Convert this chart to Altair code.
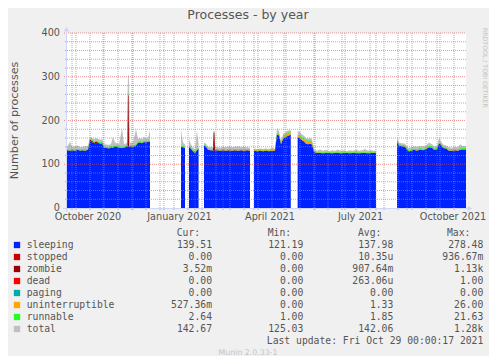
import altair as alt
import pandas as pd

# ---------------- values ----------------
# day offset from 2020-09-26 (UTC); seg = contiguous block of data (gaps between)
day = [
    0, 3, 5, 8, 11, 13, 16, 18, 21, 23, 25, 27, 29, 31, 33, 35, 37, 40, 42, 44,
    46, 48, 50, 52, 55, 57, 59, 60, 60.5, 61, 61.5, 62, 62.5, 63, 64, 66, 69, 71, 73, 75, 77, 79, 81, 83,
    114, 116, 118,
    122, 124, 126, 128, 130, 131.5,
    137, 139, 141, 143, 145, 146, 146.6, 147.4, 148, 150, 153, 156, 159, 162, 165, 168, 171, 174, 177, 180, 183,
    187, 190, 193, 196, 199, 202, 205, 208, 210, 212, 214, 216, 218, 220, 222, 223.7,
    230.7, 233, 235, 237, 239, 241, 243, 245, 247, 250, 253, 256, 259, 262, 265, 268, 271, 274, 277, 280,
    283, 286, 289, 292, 295, 298, 301, 304, 307, 309,
    330, 332, 335, 338, 340, 342, 344, 347, 350, 353, 356, 359, 362, 365, 367, 370, 372, 374, 376, 379,
    382, 385, 388, 391, 393, 396, 399,
]
seg = (["a"] * 44 + ["b"] * 3 + ["c"] * 6 + ["d"] * 21 + ["e"] * 16 + ["f"] * 30 + ["g"] * 27)

sleeping = [
    132, 131, 132, 131, 133, 131, 132, 131, 133, 153, 150, 149, 146, 150, 147, 148, 138, 137, 136, 139,
    138, 141, 140, 138, 137, 138, 140, 141, 141, 141, 141, 140, 140, 140, 142, 140, 143, 149, 150, 148, 151, 150,
    152, 151,
    140, 139, 137,
    140, 135, 130, 126, 132, 136,
    143, 140, 133, 132, 132, 131, 131, 131, 132, 132, 131, 132, 131, 132, 131, 132, 131, 132, 131, 132, 131,
    131, 130, 131, 130, 131, 130, 131, 131, 168, 166, 146, 158, 162, 164, 166, 168,
    162, 160, 155, 152, 147, 146, 147, 145, 128, 126, 126, 125, 126, 126, 125, 126, 126, 125, 126, 126,
    125, 126, 126, 125, 126, 126, 125, 126, 126, 126,
    152, 143, 141, 140, 133, 129, 131, 133, 131, 134, 132, 135, 139, 138, 133, 134, 147, 145, 137, 136,
    131, 131, 132, 131, 133, 134, 134,
]
zombie = [
    0, 0, 0, 0, 0, 0, 0, 0, 0, 3, 4, 0, 6, 0, 0, 0, 0, 0, 0, 0,
    0, 0, 0, 0, 0, 0, 0, 0, 0, 115, 118, 0, 0, 0, 0, 0, 0, 0, 0, 0, 0, 0,
    0, 0,
    0, 0, 0,
    0, 0, 0, 0, 0, 0,
    0, 0, 0, 0, 0, 0, 40, 42, 0, 0, 0, 0, 0, 0, 0, 0, 0, 0, 0, 0, 0,
    0, 0, 0, 0, 0, 0, 0, 0, 0, 0, 0, 0, 0, 0, 0, 0,
    0, 0, 0, 0, 0, 0, 0, 0, 0, 0, 0, 0, 0, 0, 0, 0, 0, 0, 0, 0,
    0, 0, 0, 0, 0, 0, 0, 0, 0, 0,
    0, 0, 0, 0, 0, 0, 0, 0, 0, 0, 0, 0, 0, 0, 0, 0, 0, 0, 0, 0,
    0, 0, 0, 0, 0, 0, 0,
]
uninterruptible = [
    0.5, 0.5, 0.5, 0.5, 0.5, 0.5, 0.5, 0.5, 0.5, 0.5, 0.5, 0.5, 0.5, 0.5, 0.5, 0.5, 0.5, 0.5, 0.5, 0.5,
    0.5, 0.5, 0.5, 0.5, 0.5, 0.5, 0.5, 0.5, 0.5, 0.5, 0.5, 0.5, 0.5, 0.5, 0.5, 0.5, 0.5, 0.5, 0.5, 0.5, 0.5, 0.5,
    0.5, 0.5,
    0.5, 0.5, 0.5,
    0.5, 0.5, 0.5, 0.5, 0.5, 0.5,
    0.5, 0.5, 0.5, 0.5, 0.5, 0.5, 0.5, 0.5, 0.5, 1, 1, 1, 1, 1, 1, 1, 1, 1, 1, 1, 1,
    1.5, 1.5, 1.5, 1.5, 1.5, 1.5, 1.5, 1.5, 2, 2, 2, 3, 4, 5, 6, 6,
    3, 4, 4, 5, 6, 6, 6, 5, 1, 1, 1, 1, 1, 1, 1, 1, 1, 1, 1, 1,
    1, 1, 1, 1, 1, 1, 1, 1, 1, 1,
    1, 1, 1, 1, 1, 1, 1, 1, 1, 1, 1, 1, 1, 1, 1, 1, 1, 1, 1, 1,
    1, 1, 1, 1, 1, 1, 1,
]
runnable = [
    2, 2, 2, 2, 2, 2, 2, 2, 2, 2, 2, 2, 2, 2, 2, 2, 2, 2, 2, 2,
    2, 2, 2, 2, 2, 2, 2, 2, 2, 2, 2, 2, 2, 2, 2, 2, 2, 2, 2, 2, 2, 2,
    2, 2,
    2, 2, 2,
    2, 2, 2, 2, 2, 2,
    2, 2, 2, 2, 2, 2, 2, 2, 2, 2, 2, 2, 2, 2, 2, 2, 2, 2, 2, 2, 2,
    1, 1, 1, 1, 1, 1, 1, 1, 2, 2, 2, 2, 2, 2, 2, 2,
    2, 2, 2, 2, 2, 2, 2, 2, 1, 1, 1, 1, 1, 1, 1, 1, 1, 1, 1, 1,
    1, 1, 1, 1, 1, 1, 1, 1, 1, 1,
    2, 2, 2, 2, 2, 2, 2, 2, 2, 2, 2, 2, 2, 2, 2, 2, 2, 2, 2, 2,
    2, 2, 2, 2, 2, 2, 2,
]
total = [
    139, 152, 140, 141, 143, 139, 140, 142, 141, 163, 160, 158, 160, 158, 156, 157, 146, 145, 144, 147,
    163, 150, 148, 146, 183, 146, 148, 150, 260, 303, 305, 290, 200, 150, 150, 149, 181, 158, 160, 157, 163, 159,
    160, 178,
    179, 150, 146,
    158, 145, 138, 134, 177, 150,
    150, 147, 140, 139, 140, 139, 176, 178, 140, 139, 138, 140, 139, 141, 139, 140, 141, 139, 140, 139, 138,
    136, 135, 136, 135, 136, 135, 137, 136, 183, 176, 153, 168, 172, 176, 178, 178,
    176, 174, 168, 165, 160, 159, 160, 157, 133, 131, 134, 131, 133, 130, 132, 131, 134, 131, 132, 130,
    132, 131, 133, 131, 132, 135, 131, 132, 131, 131,
    160, 150, 148, 147, 140, 137, 139, 141, 140, 142, 141, 143, 150, 146, 141, 142, 160, 152, 145, 143,
    139, 138, 140, 139, 146, 141, 142,
]

# legend table
names = ["sleeping", "stopped", "zombie", "dead", "paging", "uninterruptible", "runnable", "total"]
cur = ["139.51", "0.00", "3.52m", "0.00", "0.00", "527.36m", "2.64", "142.67"]
mins = ["121.19", "0.00", "0.00", "0.00", "0.00", "0.00", "1.00", "125.03"]
avgs = ["137.98", "10.35u", "907.64m", "263.06u", "0.00", "1.33", "1.85", "142.06"]
maxs = ["278.48", "936.67m", "1.13k", "1.00", "0.00", "26.00", "21.63", "1.28k"]

# axis ticks / labels
y_minor = [20, 40, 60, 80, 120, 140, 160, 180, 220, 240, 260, 280, 320, 340, 360, 380]
y_major = [100, 200, 300, 400]
y_labels = [0, 100, 200, 300, 400]
month_starts = ["2020-10-01", "2020-11-01", "2020-12-01", "2021-01-01", "2021-02-01", "2021-03-01",
                "2021-04-01", "2021-05-01", "2021-06-01", "2021-07-01", "2021-08-01", "2021-09-01",
                "2021-10-01"]
x_label_text = ["October 2020", "January 2021", "April 2021", "July 2021", "October 2021"]
x_label_at = ["2020-10-17T00:00:00", "2021-01-16T12:00:00", "2021-04-17T00:00:00",
              "2021-07-16T12:00:00", "2021-10-17T00:00:00"]

# ---------------- styling ----------------
COLORS = {"sleeping": "#0022ff", "stopped": "#cc0000", "zombie": "#990000", "dead": "#ff0000",
          "paging": "#00aaaa", "uninterruptible": "#ffa500", "runnable": "#22ff22", "total": "#c0c0c0"}
FONT = "DejaVu Sans"
MONO = "DejaVu Sans Mono"
TXT = "#555555"
W, H = 399, 175

START = pd.Timestamp("2020-09-26")
END = pd.Timestamp("2021-10-30")


def iso(ts):
    return pd.Timestamp(ts).strftime("%Y-%m-%dT%H:%M:%SZ")


xscale = alt.Scale(type="utc", domain=[int(START.timestamp() * 1000), int(END.timestamp() * 1000)])
yscale = alt.Scale(domain=[0, 400], nice=False, zero=True)

dates = [iso(START + pd.Timedelta(days=d)) for d in day]
df = pd.DataFrame(dict(date=dates, seg=seg, sleeping=sleeping, zombie=zombie,
                       uninterruptible=uninterruptible, runnable=runnable, total=total))
lo = pd.Series(0.0, index=df.index)
parts = []
for s in ["sleeping", "zombie", "uninterruptible", "runnable"]:
    hi = lo + df[s]
    parts.append(pd.DataFrame(dict(date=df["date"], seg=df["seg"], lo=lo, hi=hi, col=COLORS[s], series=s)))
    lo = hi
stack = pd.concat(parts, ignore_index=True)

X = alt.X("date:T", scale=xscale, axis=None)

total_area = alt.Chart(df).mark_area(color=COLORS["total"], interpolate="linear").encode(
    x=X, y=alt.Y("total:Q", scale=yscale, axis=None, stack=None), detail="seg:N")

areas = alt.Chart(stack).mark_area(interpolate="linear").encode(
    x=X,
    y=alt.Y("hi:Q", scale=yscale, axis=None, stack=None),
    y2="lo:Q",
    color=alt.Color("col:N", scale=None),
    detail=alt.Detail(["seg:N", "series:N"]),
)

# grid (drawn over data as rrdtool does)
minor_dates = [iso(d) for d in pd.date_range("2020-10-05", "2021-10-29", freq="14D")]
vminor = alt.Chart(pd.DataFrame({"date": minor_dates})).mark_rule(
    color="#8f8f8f", opacity=0.7, strokeDash=[1, 1], strokeWidth=1).encode(
    x=X, y=alt.value(0), y2=alt.value(H + 2))
vmajor = alt.Chart(pd.DataFrame({"date": [iso(d) for d in month_starts]})).mark_rule(
    color="#de4f4f", opacity=0.6, strokeDash=[1, 1], strokeWidth=1).encode(
    x=X, y=alt.value(0), y2=alt.value(H + 3))
hminor = alt.Chart(pd.DataFrame({"v": y_minor})).mark_rule(
    color="#8f8f8f", opacity=0.7, strokeDash=[1, 1], strokeWidth=1).encode(
    y=alt.Y("v:Q", scale=yscale, axis=None), x=alt.value(-2), x2=alt.value(W))
hmajor = alt.Chart(pd.DataFrame({"v": y_major})).mark_rule(
    color="#de4f4f", opacity=0.6, strokeDash=[1, 1], strokeWidth=1).encode(
    y=alt.Y("v:Q", scale=yscale, axis=None), x=alt.value(-3), x2=alt.value(W))

# axes (lines + arrows)
one = pd.DataFrame({"k": [0]})
AX = "#CFD6F8"
xaxis = alt.Chart(one).mark_rule(color=AX, strokeWidth=1).encode(
    x=alt.value(-4), x2=alt.value(W + 3), y=alt.value(H + 0.5))
yaxis = alt.Chart(one).mark_rule(color=AX, strokeWidth=1).encode(
    x=alt.value(-0.5), y=alt.value(-3), y2=alt.value(H + 4))
xarrow = alt.Chart(one).mark_point(shape="triangle-right", filled=True, color=AX, size=30, opacity=1).encode(
    x=alt.value(W + 4), y=alt.value(H + 0.5))
yarrow = alt.Chart(one).mark_point(shape="triangle-up", filled=True, color=AX, size=30, opacity=1).encode(
    x=alt.value(-0.5), y=alt.value(-4))

ylab = alt.Chart(pd.DataFrame({"v": y_labels, "t": [str(v) for v in y_labels]})).mark_text(
    font=FONT, fontSize=9.7, color=TXT, align="right", baseline="middle").encode(
    y=alt.Y("v:Q", scale=yscale, axis=None), x=alt.value(-7), text="t:N")
xlab = alt.Chart(pd.DataFrame({"date": [iso(d) for d in x_label_at], "t": x_label_text})).mark_text(
    font=FONT, fontSize=9.7, color=TXT, align="center", baseline="alphabetic").encode(
    x=X, y=alt.value(H + 11.5), text="t:N")

title = alt.Chart(one).mark_text(text="Processes - by year", font=FONT, fontSize=12.5, color=TXT,
                                 align="center", baseline="alphabetic").encode(
    x=alt.value(181), y=alt.value(-14))
ytitle = alt.Chart(one).mark_text(text="Number of processes", font=FONT, fontSize=11.1, color=TXT,
                                  align="center", baseline="middle", angle=270).encode(
    x=alt.value(-52.5), y=alt.value(87.5))
rrd = alt.Chart(one).mark_text(text="RRDTOOL / TOBI OETIKER", font=FONT, fontSize=6.2, color="#c4c4c4",
                               align="left", baseline="middle", angle=90).encode(
    x=alt.value(418), y=alt.value(-5))

# legend block
NB = "\u00a0"


def pad(s):
    return s if s[-1].isalpha() else s + NB


leg = pd.DataFrame(dict(row=list(range(len(names))), name=names, col=[COLORS[n] for n in names],
                        cur=[pad(s) for s in cur], mn=[pad(s) for s in mins],
                        av=[pad(s) for s in avgs], mx=[pad(s) for s in maxs]))
rowscale = alt.Scale(domain=[0, 7], range=[212, 296])
RY = alt.Y("row:Q", scale=rowscale, axis=None)

squares = alt.Chart(leg).mark_square(size=40, opacity=1).encode(
    x=alt.value(-50), y=RY, color=alt.Color("col:N", scale=None))


def col_text(field, xpos, align):
    return alt.Chart(leg).mark_text(font=MONO, fontSize=9.72, color=TXT, align=align,
                                    baseline="middle").encode(x=alt.value(xpos), y=RY, text=f"{field}:N")


lab = col_text("name", -40.3, "left")
c_cur = col_text("cur", 145, "right")
c_min = col_text("mn", 236.3, "right")
c_avg = col_text("av", 326.3, "right")
c_max = col_text("mx", 416.3, "right")

hdr = pd.DataFrame(dict(row=[-1, -1, -1, -1], t=["Cur:", "Min:", "Avg:", "Max:"]))
hdr_layers = [
    alt.Chart(hdr.iloc[[i]]).mark_text(font=MONO, fontSize=9.72, color=TXT, align="left",
                                        baseline="middle").encode(x=alt.value(xp), y=RY, text="t:N")
    for i, xp in enumerate([109.7, 200.7, 291, 380])
]
foot = pd.DataFrame(dict(row=[8], t=["Last update:" + NB + "Fri Oct 29 00:00:17 2021"]))
last = alt.Chart(foot).mark_text(font=MONO, fontSize=9.72, color=TXT, align="right",
                                 baseline="middle").encode(x=alt.value(416.3), y=RY, text="t:N")
wm = pd.DataFrame(dict(row=[9], t=["Munin 2.0.33-1"]))
munin = alt.Chart(wm).mark_text(font=FONT, fontSize=7.8, color="#c4c4c4", align="center",
                                baseline="middle").encode(x=alt.value(181), y=RY, text="t:N")

chart = alt.layer(
    total_area, areas, vminor, hminor, vmajor, hmajor, xaxis, yaxis, xarrow, yarrow,
    ylab, xlab, title, ytitle, rrd,
    squares, lab, c_cur, c_min, c_avg, c_max, *hdr_layers, last, munin,
).resolve_scale(y="independent").properties(
    width=W, height=H,
    padding={"left": 59, "top": 25, "right": 23, "bottom": 148},
    autosize=alt.AutoSizeParams(type="none"),
    background="#F0F0F0",
).configure_view(fill="#FFFFFF", stroke=None)

chart.save("out.html", embed_options={"renderer": "svg", "actions": False})
